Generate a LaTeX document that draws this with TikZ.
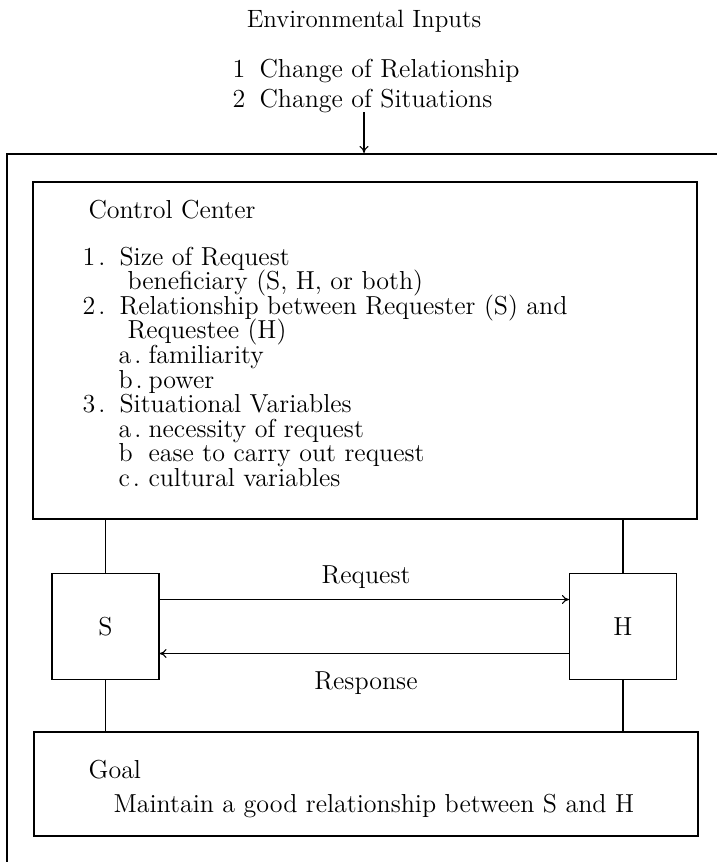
\documentclass[tikz,border=0pt]{standalone}
\usetikzlibrary{calc,arrows.meta}
\begin{document}
\begin{tikzpicture}[x=0.5pt,y=-0.5pt, line width=0.55pt,
  txt/.style={inner sep=0pt, font=\fontsize{13}{13}\selectfont},
  ln/.style={txt, anchor=base west},
  boxd/.style={draw, inner sep=0pt},
  arr/.style={-{To[length=3.5pt,width=4.5pt]}}]
\useasboundingbox (0,0) rectangle (717,862);
% environmental inputs
\node[txt, anchor=base, font=\fontsize{12.5}{12.5}\selectfont] (envt) at (364,27) {Environmental Inputs};
\node[ln] (env1) at (232,77) {\makebox[13.5pt][l]{1}Change of Relationship};
\node[ln] (env2) at (232,107) {\makebox[13.5pt][l]{2}Change of Situations};
\coordinate (inA) at (364,112);
\coordinate (inB) at (364,153);
\draw[arr] (inA) -- (inB);
% outer open frame
\coordinate (fBL) at (7,862);
\coordinate (fTL) at (7,154);
\coordinate (fTR) at (717,154);
\draw (fBL) -- (fTL) -- (fTR);
% control center
\node[boxd, minimum width=332pt, minimum height=168.5pt] (cc) at (365,350.5) {};
\node[ln] (cct) at (88,218) {Control Center};
\node[ln] (c1) at (82,265) {\makebox[18.5pt][l]{1\kern1.5pt.}Size of Request};
\node[ln] (c2) at (127,289.6) {beneficiary (S, H, or both)};
\node[ln] (c3) at (82,314.2) {\makebox[18.5pt][l]{2\kern1.5pt.}Relationship between Requester (S) and};
\node[ln] (c4) at (127,338.8) {Requestee (H)};
\node[ln] (c5) at (118,363.4) {\makebox[15pt][l]{a\kern1.5pt.}familiarity};
\node[ln] (c6) at (118,388) {\makebox[15pt][l]{b\kern1.5pt.}power};
\node[ln] (c7) at (82,412.6) {\makebox[18.5pt][l]{3\kern1.5pt.}Situational Variables};
\node[ln] (c8) at (118,437.2) {\makebox[15pt][l]{a\kern1.5pt.}necessity of request};
\node[ln] (c9) at (118,461.8) {\makebox[15pt][l]{b}ease to carry out request};
\node[ln] (c10) at (118,486.4) {\makebox[15pt][l]{c\kern1.5pt.}cultural variables};
% S and H
\node[boxd, txt, draw, minimum width=53.5pt, minimum height=53pt] (S) at (105.5,626.5) {S};
\node[boxd, txt, draw, minimum width=53.5pt, minimum height=53pt] (H) at (623,626.5) {H};
\draw (S.north) -- (S.north |- cc.south);
\draw (H.north) -- (H.north |- cc.south);
\draw[arr] ($(S.east)+(0,-27)$) -- ($(H.west)+(0,-27)$);
\draw[arr] ($(H.west)+(0,27)$) -- ($(S.east)+(0,27)$);
\node[txt] (req) at (366,577) {Request};
\node[txt] (resp) at (366,683) {Response};
% goal
\node[boxd, minimum width=332pt, minimum height=52pt] (goal) at (366,784) {};
\node[ln] (gt) at (88,778) {Goal};
\node[ln] (gm) at (113,812) {Maintain a good relationship between S and H};
\draw (S.south) -- (S.south |- goal.north);
\draw (H.south) -- (H.south |- goal.north);
\end{tikzpicture}
\end{document}
